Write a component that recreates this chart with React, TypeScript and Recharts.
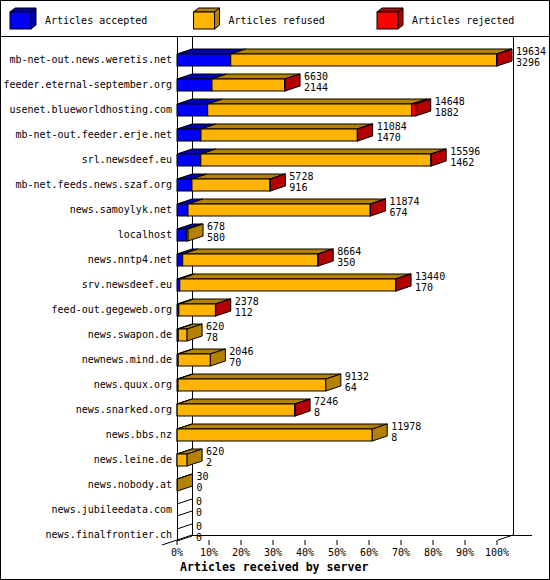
import React from 'react';
import { BarChart, Bar, XAxis, YAxis, LabelList, Customized } from 'recharts';

// Servers, top to bottom
const SERVERS = [
  'mb-net-out.news.weretis.net',
  'feeder.eternal-september.org',
  'usenet.blueworldhosting.com',
  'mb-net-out.feeder.erje.net',
  'srl.newsdeef.eu',
  'mb-net.feeds.news.szaf.org',
  'news.samoylyk.net',
  'localhost',
  'news.nntp4.net',
  'srv.newsdeef.eu',
  'feed-out.gegeweb.org',
  'news.swapon.de',
  'newnews.mind.de',
  'news.quux.org',
  'news.snarked.org',
  'news.bbs.nz',
  'news.leine.de',
  'news.nobody.at',
  'news.jubileedata.com',
  'news.finalfrontier.ch',
];

// Articles offered (first label) and accepted (second label)
const OFFERED = [19634, 6630, 14648, 11084, 15596, 5728, 11874, 678, 8664, 13440, 2378, 620, 2046, 9132, 7246, 11978, 620, 30, 0, 0];
const ACCEPTED = [3296, 2144, 1882, 1470, 1462, 916, 674, 580, 350, 170, 112, 78, 70, 64, 8, 8, 2, 0, 0, 0];
// rejected is only readable from the red slivers / red end faces
const REJECTED = [30, 20, 245, 20, 20, 20, 20, 0, 20, 20, 20, 0, 0, 0, 20, 0, 0, 0, 0, 0];

const SERIES = ['Articles accepted', 'Articles refused', 'Articles rejected'];
const SERIES_KEYS = ['accepted', 'refused', 'rejected'];
const TICK_PCT = [0, 10, 20, 30, 40, 50, 60, 70, 80, 90, 100];
const AXIS_TITLE = 'Articles received by server';

const FRONT = ['#0000ff', '#ffb400', '#ff0000'];
const SHADE = ['#0000b4', '#b48200', '#b40000'];

const MAX_OFFERED = Math.max(...OFFERED);

const data = SERVERS.map((server, i) => ({
  server,
  offered: OFFERED[i],
  accepted: ACCEPTED[i],
  rejected: REJECTED[i],
  refused: OFFERED[i] - ACCEPTED[i] - REJECTED[i],
}));

const W = 550;
const H = 580;
const LEFT = 177;
const TOP = 47;
const PLOT_W = 320;
const PLOT_H = 500;
const DX = 15;
const DY = 5;
const FLOOR_Y = 540;
const FONT = '"DejaVu Sans Mono", "Liberation Mono", monospace';

const lastSegment = (d: any) =>
  d.rejected > 0 ? 2 : d.refused > 0 ? 1 : d.accepted > 0 ? 0 : -1;

// 3D block: top face, front face, and an end face on the last segment
const makeShape = (idx: number) => (props: any) => {
  const { x, y, width, height, payload } = props;
  const last = lastSegment(payload);
  const w = Math.max(0, width || 0);
  const parts: React.ReactNode[] = [];
  if (last === -1) {
    if (idx === 0) {
      parts.push(<line key="t" x1={x} y1={y} x2={x + DX} y2={y - DY} stroke="#000" />);
      parts.push(<line key="b" x1={x} y1={y + height} x2={x + DX} y2={y + height - DY} stroke="#000" />);
    }
    return <g>{parts}</g>;
  }
  if (w > 0) {
    parts.push(
      <polygon
        key="top"
        points={`${x},${y} ${x + DX},${y - DY} ${x + w + DX},${y - DY} ${x + w},${y}`}
        fill={SHADE[idx]}
        stroke="#000"
      />
    );
    parts.push(<rect key="front" x={x} y={y} width={w} height={height} fill={FRONT[idx]} stroke="#000" />);
  }
  if (idx === last) {
    const r = x + w;
    parts.push(
      <polygon
        key="side"
        points={`${r},${y} ${r + DX},${y - DY} ${r + DX},${y + height - DY} ${r},${y + height}`}
        fill={SHADE[idx]}
        stroke="#000"
      />
    );
  }
  return <g>{parts}</g>;
};

const valueLabel = (dyOff: number) => (props: any) => {
  const vb = props.viewBox || props;
  const x = (props.x ?? vb.x) + (props.width ?? vb.width ?? 0);
  const y = (props.y ?? vb.y) + (props.height ?? vb.height ?? 0) / 2;
  return (
    <text x={x + DX + 4} y={y + dyOff} dy="0.35em" fontFamily={FONT} fontSize={10} fill="#000">
      {props.value}
    </text>
  );
};

const YTick = (props: any) => {
  const { y, payload } = props;
  return (
    <text x={LEFT - 5} y={y} dy="0.35em" textAnchor="end" fontFamily={FONT} fontSize={10} fill="#000">
      {payload.value}
    </text>
  );
};

const XTick = (props: any) => {
  const { x, payload } = props;
  return (
    <g>
      <line x1={x} y1={FLOOR_Y} x2={x} y2={FLOOR_Y + 5} stroke="#000" />
      <text x={x} y={552} dy="0.35em" textAnchor="middle" fontFamily={FONT} fontSize={10} fill="#000">
        {Math.round((payload.value / MAX_OFFERED) * 100)}%
      </text>
    </g>
  );
};

// frame, legend and the 3D walls
const Frame = () => {
  const backLeft = LEFT + DX;
  const backRight = LEFT + PLOT_W + DX + 1;
  const backFloor = FLOOR_Y - DY;
  return (
    <g>
      <rect x={0.5} y={0.5} width={W - 1} height={H - 1} fill="#fff" stroke="#000" />
      <line x1={0} y1={36.5} x2={W} y2={36.5} stroke="#000" />
      {SERIES.map((name, i) => {
        const lx = 10 + i * 183.5;
        return (
          <g key={name}>
            <polygon points={`${lx},12 ${lx + 5},8 ${lx + 26},8 ${lx + 21},12`} fill={SHADE[i]} stroke="#000" />
            <polygon points={`${lx + 21},12 ${lx + 26},8 ${lx + 26},25 ${lx + 21},29`} fill={SHADE[i]} stroke="#000" />
            <rect x={lx} y={12} width={21} height={17} fill={FRONT[i]} stroke="#000" />
            <text x={lx + 35} y={20} dy="0.35em" fontFamily={FONT} fontSize={10} fill="#000">
              {name}
            </text>
          </g>
        );
      })}
      <line x1={LEFT + 0.5} y1={37} x2={LEFT + 0.5} y2={FLOOR_Y} stroke="#000" />
      <line x1={backLeft + 0.5} y1={37} x2={backLeft + 0.5} y2={backFloor} stroke="#000" />
      <line x1={backRight + 0.5} y1={37} x2={backRight + 0.5} y2={backFloor} stroke="#000" />
      <line x1={backLeft} y1={backFloor + 0.5} x2={532} y2={backFloor + 0.5} stroke="#000" />
      <line x1={LEFT - DX} y1={FLOOR_Y + DY} x2={backLeft} y2={backFloor} stroke="#000" />
      <line x1={LEFT + PLOT_W + 1} y1={FLOOR_Y} x2={backRight} y2={backFloor} stroke="#000" />
      <text x={180} y={567} dy="0.35em" fontFamily={FONT} fontSize={11.6} fontWeight="bold" fill="#000">
        {AXIS_TITLE}
      </text>
    </g>
  );
};

export default function App() {
  return (
    <div style={{ width: W, height: H }}>
      <style>{'body{margin:0}'}</style>
      <BarChart
        width={W}
        height={H}
        data={data}
        layout="vertical"
        barCategoryGap={0}
        margin={{ top: TOP, right: W - LEFT - PLOT_W, bottom: H - TOP - PLOT_H - 33, left: 0 }}
      >
        <Customized component={<Frame />} />
        <XAxis
          type="number"
          domain={[0, MAX_OFFERED]}
          ticks={TICK_PCT.map((p) => (p / 100) * MAX_OFFERED)}
          interval={0}
          axisLine={false}
          tickLine={false}
          tick={<XTick />}
          height={33}
        />
        <YAxis
          type="category"
          dataKey="server"
          width={LEFT}
          axisLine={false}
          tickLine={false}
          tick={<YTick />}
          interval={0}
        />
        {SERIES_KEYS.map((key, i) => (
          <Bar
            key={key}
            dataKey={key}
            name={SERIES[i]}
            stackId="a"
            barSize={12}
            shape={makeShape(i)}
            isAnimationActive={false}
          >
            {i === 2 && <LabelList dataKey="offered" content={valueLabel(-9)} />}
            {i === 2 && <LabelList dataKey="accepted" content={valueLabel(2)} />}
          </Bar>
        ))}
      </BarChart>
    </div>
  );
}
